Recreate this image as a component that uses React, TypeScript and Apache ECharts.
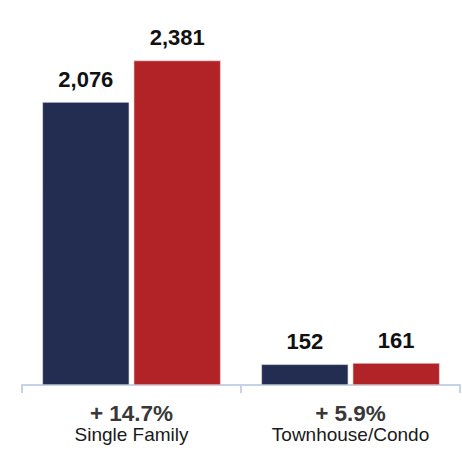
import React, { useEffect, useRef } from "react";
import * as echarts from "echarts";

const categories = ["Single Family", "Townhouse/Condo"];
const changes = ["+ 14.7%", "+ 5.9%"];
const prevYear = [2076, 152];
const currYear = [2381, 161];

export default function App() {
  const ref = useRef<HTMLDivElement>(null);
  useEffect(() => {
    const chart = echarts.init(ref.current!, null, { renderer: "svg" });
    const labelStyle = {
      show: true,
      position: "top",
      distance: 12,
      fontFamily: "Liberation Sans, Arial, sans-serif",
      fontWeight: "bold",
      fontSize: 22,
      color: "#111",
      formatter: (p: any) => p.value.toLocaleString("en-US"),
    };
    chart.setOption({
      animation: false,
      grid: { left: 22, width: 438, top: 3.4, height: 381.6 },
      xAxis: {
        type: "category",
        data: categories,
        axisLine: { lineStyle: { color: "#c6d2e8", width: 2 } },
        axisTick: { show: true, length: 8, lineStyle: { color: "#c6d2e8", width: 2 } },
        axisLabel: {
          margin: 17,
          interval: 0,
          formatter: (v: string, i: number) => `{a|${changes[i]}}\n{b|${v}}`,
          rich: {
            a: {
              fontFamily: "Liberation Sans, Arial, sans-serif",
              fontWeight: "bold",
              fontSize: 22.5,
              lineHeight: 22.5,
              color: "#383838",
            },
            b: {
              fontFamily: "Liberation Sans, Arial, sans-serif",
              fontSize: 19,
              lineHeight: 19,
              color: "#1a1a1a",
            },
          },
        },
      },
      yAxis: { type: "value", min: 0, max: 2800, show: false },
      series: [
        {
          type: "bar",
          data: prevYear,
          barWidth: 87,
          barGap: "5%",
          itemStyle: { color: "#232d52", borderColor: "#e6e9f0", borderWidth: 0.6 },
          label: labelStyle,
        },
        {
          type: "bar",
          data: currYear,
          barWidth: 87,
          itemStyle: { color: "#b22327", borderColor: "#f0d6d6", borderWidth: 0.6 },
          label: labelStyle,
        },
      ],
    });
    return () => chart.dispose();
  }, []);
  return <div ref={ref} style={{ width: 462, height: 454, position: "absolute", left: 0, top: 0 }} />;
}
